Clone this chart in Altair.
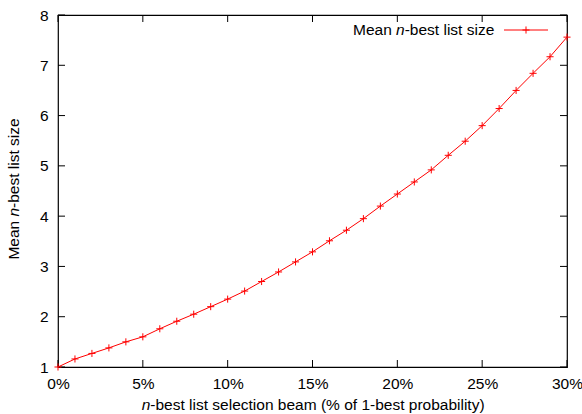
import altair as alt
import pandas as pd

# ---- data ----
beam_pct = list(range(0, 31))
mean_nbest = [1.00, 1.16, 1.27, 1.38, 1.50, 1.60, 1.76, 1.91, 2.05, 2.20,
              2.35, 2.51, 2.70, 2.89, 3.09, 3.29, 3.51, 3.72, 3.95, 4.20,
              4.44, 4.68, 4.92, 5.21, 5.49, 5.80, 6.14, 6.50, 6.84, 7.17, 7.56]
x_ticks = [0, 5, 10, 15, 20, 25, 30]
y_ticks = [1, 2, 3, 4, 5, 6, 7, 8]

W, H = 509, 352
FONT = "Liberation Sans"
FS = 15.5
RED = "#ff0000"
TICK = 7

xs = alt.Scale(domain=[0, 30], nice=False, zero=False)
ys = alt.Scale(domain=[1, 8], nice=False, zero=False)

df = pd.DataFrame({"beam": beam_pct, "size": mean_nbest})
dx = pd.DataFrame({"beam": x_ticks})
dy = pd.DataFrame({"size": y_ticks})
one = pd.DataFrame({"d": [0]})

axis_common = dict(tickSize=0, domain=False, grid=False, title=None,
                   labelFont=FONT, labelFontSize=FS, labelColor="black",
                   labelFlush=False)
x_axis = alt.Axis(values=x_ticks, labelExpr="datum.value + '%'",
                  labelPadding=9, **axis_common)
y_axis = alt.Axis(values=y_ticks, labelPadding=10, **axis_common)

X = alt.X("beam:Q", scale=xs, axis=x_axis)
Y = alt.Y("size:Q", scale=ys, axis=y_axis)

line = alt.Chart(df).mark_line(color=RED, strokeWidth=1).encode(x=X, y=Y)

plus = "M-1,0L1,0M0,-1L0,1"
pts = alt.Chart(df).mark_point(shape=plus, size=50, color=RED, filled=False,
                               strokeWidth=1, opacity=1).encode(x=X, y=Y)

tick_style = dict(color="black", strokeWidth=1)
xt_bot = alt.Chart(dx).mark_rule(**tick_style).encode(
    x=X, y=alt.value(H), y2=alt.value(H - TICK))
xt_top = alt.Chart(dx).mark_rule(**tick_style).encode(
    x=X, y=alt.value(0), y2=alt.value(TICK))
yt_left = alt.Chart(dy).mark_rule(**tick_style).encode(
    y=Y, x=alt.value(0), x2=alt.value(TICK))
yt_right = alt.Chart(dy).mark_rule(**tick_style).encode(
    y=Y, x=alt.value(W), x2=alt.value(W - TICK))


def txt(s, x, y, italic=False, angle=0, align="left"):
    kw = dict(font=FONT, fontSize=FS, color="black", align=align, baseline="alphabetic")
    if italic:
        kw["fontStyle"] = "italic"
    if angle:
        kw["angle"] = angle
    return alt.Chart(one).mark_text(**kw).encode(
        x=alt.value(x), y=alt.value(y), text=alt.value(s))


N_W = 0.556 * FS          # width of the italic "n"
MEAN_W = 2.779 * FS       # width of "Mean "

# x title: "n-best list selection beam (% of 1-best probability)"
XTY = 395.0
xt1 = txt("n", 83.7, XTY, italic=True)
xt2 = txt("-best list selection beam (% of 1-best probability)", 83.7 + N_W, XTY)

# y title: "Mean n-best list size" (rotated)
yb = -38.7
y0 = 244.6
yt1 = txt("Mean", yb, y0, angle=270)
yt2 = txt("n", yb, y0 - MEAN_W, italic=True, angle=270)
yt3 = txt("-best list size", yb, y0 - MEAN_W - N_W, angle=270)

# legend
lx = 295.0
lg1 = txt("Mean", lx, 19.5)
lg2 = txt("n", lx + MEAN_W, 19.5, italic=True)
lg3 = txt("-best list size", lx + MEAN_W + N_W, 19.5)
lg_line = alt.Chart(one).mark_rule(color=RED, strokeWidth=1).encode(
    x=alt.value(446), x2=alt.value(490), y=alt.value(15))
lg_pt = alt.Chart(one).mark_point(shape=plus, size=50, color=RED, filled=False,
                                  strokeWidth=1, opacity=1).encode(
    x=alt.value(468), y=alt.value(15))

chart = alt.layer(
    xt_bot, xt_top, yt_left, yt_right, line, pts,
    xt1, xt2, yt1, yt2, yt3, lg1, lg2, lg3, lg_line, lg_pt,
).properties(
    width=W, height=H,
    autosize=alt.AutoSizeParams(type="none"),
    padding={"left": 58, "top": 15, "right": 15, "bottom": 47},
).configure(
    background="white",
    view=alt.ViewConfig(stroke="black", strokeWidth=1.2),
)

chart.save("out.html", embed_options={"renderer": "svg", "actions": False})
